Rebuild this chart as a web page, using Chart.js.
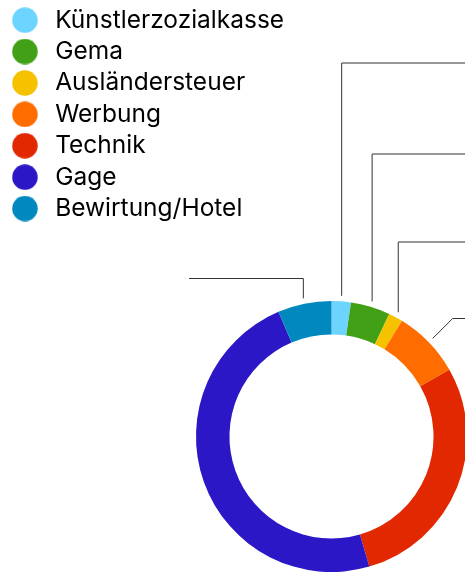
<!DOCTYPE html>
<html>
<head>
<meta charset="utf-8">
<script src="https://cdn.jsdelivr.net/npm/chart.js@4/dist/chart.umd.min.js"></script>
<style>
  html, body { margin: 0; padding: 0; background: #ffffff; overflow: hidden; }
  #wrap { width: 465px; height: 572px; position: relative; overflow: hidden; }
  canvas { display: block; }
</style>
</head>
<body>
<div id="wrap"><canvas id="c" width="465" height="872"></canvas></div>
<script>
// ---- data ----
const categories = ['Künstlerzozialkasse', 'Gema', 'Ausländersteuer', 'Werbung', 'Technik', 'Gage', 'Bewirtung/Hotel'];
const shares = [2.3, 4.7, 1.7, 8.1, 28.7, 48.1, 6.4];
const colors = ['#6cd4ff', '#42a016', '#f6c200', '#ff6d00', '#e22800', '#2b17c6', '#0088bf'];

// legend markers (filled circles)
function makeMarker(color) {
  const c = document.createElement('canvas');
  c.width = 26; c.height = 26;
  const g = c.getContext('2d');
  g.fillStyle = color;
  g.beginPath();
  g.arc(13, 13, 12.75, 0, Math.PI * 2);
  g.fill();
  return c;
}
const markers = colors.map(makeMarker);

// leader lines from slices
const leaderPlugin = {
  id: 'leaders',
  afterDatasetsDraw(chart, args, opts) {
    const ctx = chart.ctx;
    const meta = chart.getDatasetMeta(0);
    ctx.save();
    ctx.strokeStyle = opts.color;
    ctx.lineWidth = opts.width;
    opts.items.forEach(it => {
      const arc = meta.data[it.index];
      if (!arc) return;
      const p = arc.getProps(['x', 'y', 'startAngle', 'endAngle', 'outerRadius'], true);
      const mid = (p.startAngle + p.endAngle) / 2;
      const r = p.outerRadius + opts.gap;
      const sx = p.x + Math.cos(mid) * r;
      const sy = p.y + Math.sin(mid) * r;
      const dir = it.side === 'right' ? 1 : -1;
      const ex = it.bend === 'diag' ? sx + dir * Math.abs(sy - it.y) : sx;
      const endX = it.side === 'right' ? chart.width + 10 : it.endX;
      ctx.beginPath();
      ctx.moveTo(sx, sy);
      ctx.lineTo(ex, it.y);
      ctx.lineTo(endX, it.y);
      ctx.stroke();
    });
    ctx.restore();
  }
};

function draw() {
  new Chart(document.getElementById('c'), {
    type: 'doughnut',
    data: {
      labels: categories,
      datasets: [{
        data: shares,
        backgroundColor: colors,
        borderWidth: 0
      }]
    },
    options: {
      responsive: false,
      animation: false,
      devicePixelRatio: 1,
      radius: 135.5,
      cutout: '75.3%',
      layout: { padding: { left: 0, top: 1, right: 92, bottom: 0 } },
      plugins: {
        tooltip: { enabled: false },
        legend: {
          position: 'left',
          align: 'start',
          maxWidth: 290,
          labels: {
            usePointStyle: true,
            pointStyleWidth: 36,
            padding: 6.9,
            color: '#4a4a4a',
            font: { family: 'Inter', size: 24.5 },
            generateLabels: chart => categories.map((t, i) => ({
              text: t,
              fillStyle: colors[i],
              strokeStyle: colors[i],
              lineWidth: 0,
              pointStyle: markers[i],
              hidden: !chart.getDataVisibility(i),
              index: i
            }))
          }
        },
        leaders: {
          color: '#333333',
          width: 1,
          gap: 5.5,
          items: [
            { index: 0, y: 63, side: 'right', bend: 'vert' },
            { index: 1, y: 154, side: 'right', bend: 'vert' },
            { index: 2, y: 242, side: 'right', bend: 'vert' },
            { index: 3, y: 318.5, side: 'right', bend: 'diag' },
            { index: 6, y: 278.5, side: 'left', bend: 'vert', endX: 189 }
          ]
        }
      }
    },
    plugins: [leaderPlugin]
  });
}

if (document.fonts && document.fonts.load) {
  document.fonts.load('24px Inter').then(draw, draw);
} else {
  draw();
}
</script>
</body>
</html>
